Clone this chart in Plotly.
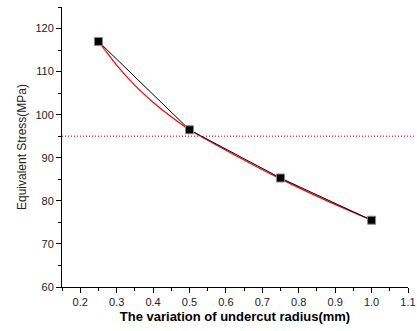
import plotly.graph_objects as go

# measured points (black squares)
radius = [0.25, 0.5, 0.75, 1.0]
stress = [117.0, 96.5, 85.3, 75.5]
# smooth red curve
curve_x = [0.25, 0.3, 0.35, 0.4, 0.45, 0.5, 0.625, 0.75, 0.875, 1.0]
curve_y = [117.0, 111.5, 106.8, 102.9, 99.5, 96.5, 90.6, 85.1, 80.1, 75.5]
limit_stress = 95

fig = go.Figure()
fig.add_trace(go.Scatter(x=curve_x, y=curve_y, mode="lines", line=dict(color="red", width=1.2, shape="spline", smoothing=0.6), showlegend=False))
fig.add_trace(go.Scatter(x=radius, y=stress, mode="lines+markers", line=dict(color="black", width=1),
                         marker=dict(symbol="square", size=8, color="black", line=dict(color="#888", width=1)), showlegend=False))
fig.add_shape(type="line", xref="paper", yref="y", x0=0, x1=1.02, y0=limit_stress, y1=limit_stress,
              line=dict(color="#ff4040", width=1.5, dash="1px,2px"))

font = "Liberation Sans, Arial, sans-serif"
fig.update_layout(
    width=417, height=331, margin=dict(l=62, r=9, t=7, b=44),
    paper_bgcolor="white", plot_bgcolor="white",
    font=dict(family=font, size=11, color="#222"),
    xaxis=dict(range=[0.15, 1.1], tickvals=[0.2,0.3,0.4,0.5,0.6,0.7,0.8,0.9,1.0,1.1],
               ticktext=["0.2","0.3","0.4","0.5","0.6","0.7","0.8","0.9","1.0","1.1"],
               automargin=False,
               showline=True, linecolor="black", linewidth=1, ticks="outside", ticklen=5, tickcolor="black",
               showgrid=False, zeroline=False,
               minor=dict(dtick=0.05, tick0=0.15, ticks="outside", ticklen=3, tickcolor="black"),
               title=dict(text="<b>The variation of undercut radius(mm)</b>", font=dict(size=13, color="black"), standoff=4)),
    yaxis=dict(range=[60, 125], tickvals=[60,70,80,90,100,110,120],
               automargin=False,
               showline=True, linecolor="black", linewidth=1, ticks="outside", ticklen=5, tickcolor="black",
               showgrid=False, zeroline=False,
               minor=dict(dtick=5, tick0=60, ticks="outside", ticklen=3, tickcolor="black"),
               title=dict(text="Equivalent Stress(MPa)", font=dict(size=12, color="#222"), standoff=6)),
)
fig.write_html("out.html", config={"displayModeBar": False},
               post_script="document.body.style.margin='0';document.body.style.overflow='hidden';")
